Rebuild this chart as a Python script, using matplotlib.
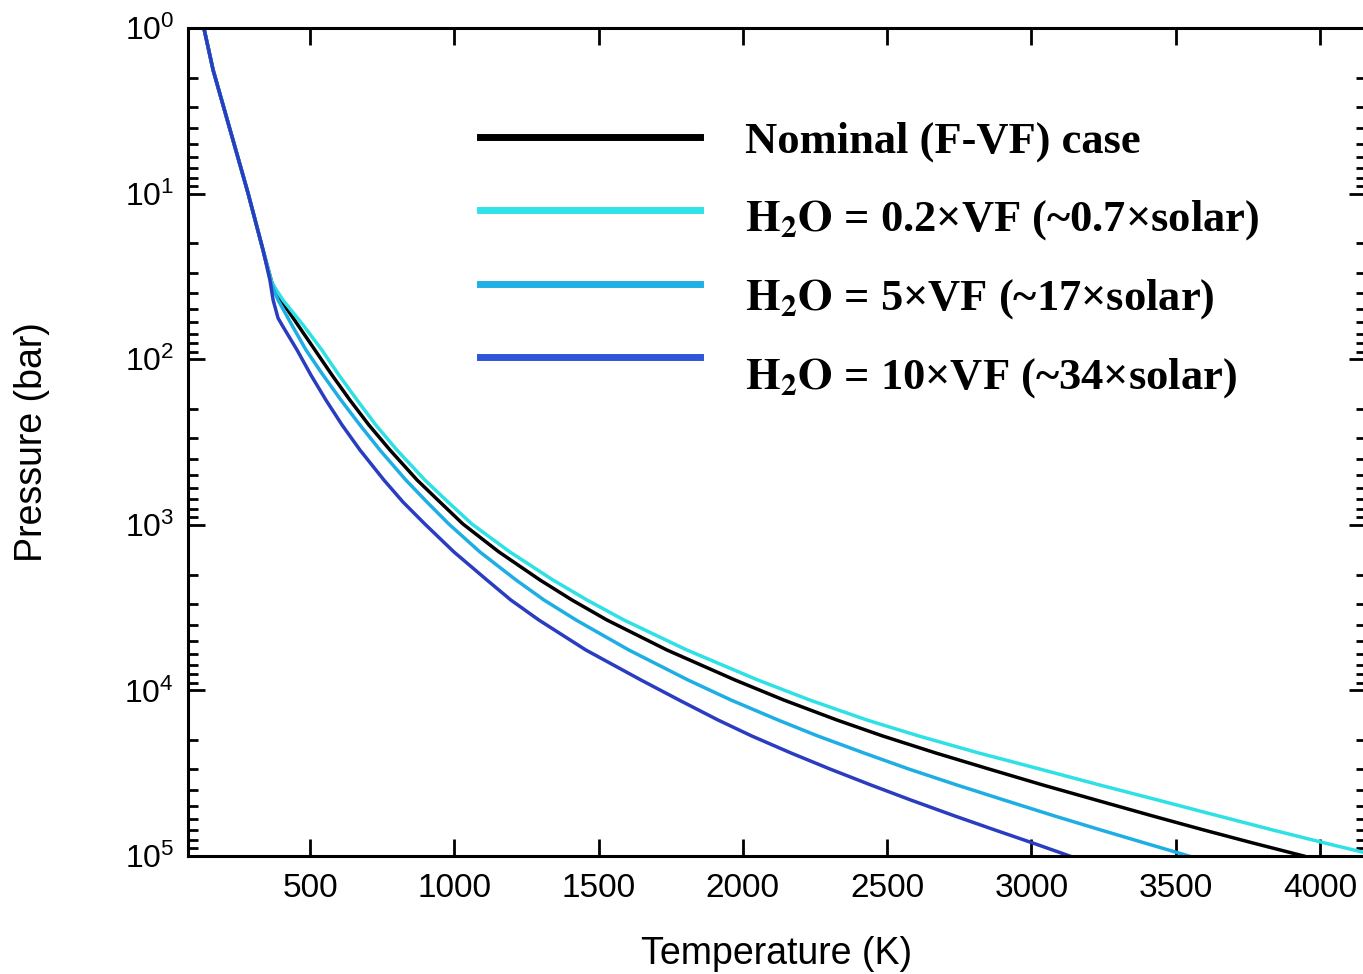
import matplotlib
matplotlib.use("Agg")
import matplotlib.pyplot as plt
from matplotlib.lines import Line2D
from matplotlib.ticker import LogLocator, NullFormatter

plt.rcParams['font.family'] = ['Liberation Sans', 'DejaVu Sans']
plt.rcParams['mathtext.fontset'] = 'stix'

# pressure levels (bar) at which the curves were read
p_levels = [1, 1.793, 9.92, 21.9, 34.7, 43.9, 62.2, 88.0, 124.6, 176.4, 249.7, 353.4,
            536.5, 728, 989, 1460, 2154, 2846, 3757, 5702, 8653, 11430, 15090, 18850,
            23880, 29830, 37260, 45900, 57340, 69660, 83450, 1e5]

# temperature (K) of each profile at those levels
t_nominal = [132, 164, 285, 337, 368, 399, 458, 517, 576, 638, 704, 777,
             871, 950, 1030, 1155, 1297, 1408, 1529, 1737, 1973, 2142, 2326, 2485,
             2669, 2853, 3040, 3224, 3421, 3598, 3768, 3944]
t_02 = [132, 164, 285, 337, 368, 406, 476, 541, 600, 663, 728, 801,
        898, 978, 1061, 1193, 1342, 1460, 1588, 1806, 2052, 2232, 2430, 2610,
        2818, 3029, 3237, 3438, 3650, 3837, 4017, 4204]
t_5 = [132, 164, 285, 337, 365, 389, 437, 486, 545, 607, 673, 742,
       832, 905, 981, 1089, 1214, 1311, 1422, 1605, 1810, 1959, 2122, 2260,
       2420, 2575, 2742, 2905, 3081, 3241, 3393, 3546]

# the 10x profile has its own kink near 35-55 bar
p_10 = [1, 1.793, 9.92, 21.9, 33.3, 43.9, 56.4, 62.2, 88.0, 124.6, 176.4, 249.7, 353.4,
        536.5, 728, 989, 1460, 2154, 2846, 3757, 5702, 8653, 11430, 15090, 18850,
        23880, 29830, 37260, 45900, 57340, 69660, 83450, 1e5]
t_10 = [132, 164, 285, 337, 361, 372, 389, 403, 455, 503, 555, 611, 673,
        756, 822, 898, 999, 1113, 1196, 1293, 1456, 1647, 1779, 1914, 2031,
        2167, 2302, 2444, 2582, 2735, 2874, 3005, 3133]

labels = ['Nominal (F-VF) case',
          r'$\mathbf{H_2O}$ = 0.2×VF (~0.7×solar)',
          r'$\mathbf{H_2O}$ = 5×VF (~17×solar)',
          r'$\mathbf{H_2O}$ = 10×VF (~34×solar)']
colors = ['black', '#2fe0e4', '#1eaee4', '#2a3cc0']
legend_colors = ['black', '#2fe3e8', '#20b0e6', '#2f55d8']

W, H = 1363, 974
fig = plt.figure(figsize=(W/100, H/100), dpi=100)
ax = fig.add_axes([188/W, 1-856/H, (1366-188)/W, (856-28)/H])

ax.plot(t_nominal, p_levels, color=colors[0], lw=2.5)
ax.plot(t_02, p_levels, color=colors[1], lw=2.5)
ax.plot(t_5, p_levels, color=colors[2], lw=2.5)
ax.plot(t_10, p_10, color=colors[3], lw=2.5)

ax.set_yscale('log')
ax.set_ylim(1e5, 1)
ax.set_xlim(77, 4160)
ax.set_xticks([500, 1000, 1500, 2000, 2500, 3000, 3500, 4000])
ax.yaxis.set_major_locator(LogLocator(base=10, numticks=10))
ax.yaxis.set_minor_locator(LogLocator(base=10, subs=range(2, 10), numticks=10))
ax.yaxis.set_minor_formatter(NullFormatter())

for s in ax.spines.values():
    s.set_linewidth(2.2)
ax.tick_params(which='major', direction='in', length=12, width=2, top=True, right=True)
ax.tick_params(which='minor', direction='in', length=7, width=2, top=True, right=True)
ax.tick_params(axis='x', labelsize=24, pad=12)
ax.tick_params(axis='y', labelsize=23, pad=10)

ax.set_xlabel('Temperature (K)', fontsize=27, va='top')
ax.xaxis.set_label_coords(0.5, -0.097)
ax.set_ylabel('Pressure (bar)', fontsize=27)
ax.yaxis.set_label_coords(-0.117, 0.5)

# legend drawn by hand: line rows and text rows are spaced differently in the original
line_y = [137, 210, 284, 357]
text_y = [153, 231, 310, 389]
for c, lab, ly, ty in zip(legend_colors, labels, line_y, text_y):
    fig.add_artist(Line2D([480/W, 700/W], [1-ly/H, 1-ly/H], color=c, lw=5,
                          transform=fig.transFigure))
    fig.text(745/W, 1-ty/H, lab, family='Liberation Serif', weight='bold',
             fontsize=32, va='baseline', ha='left')

fig.savefig('out.png', dpi=100)
